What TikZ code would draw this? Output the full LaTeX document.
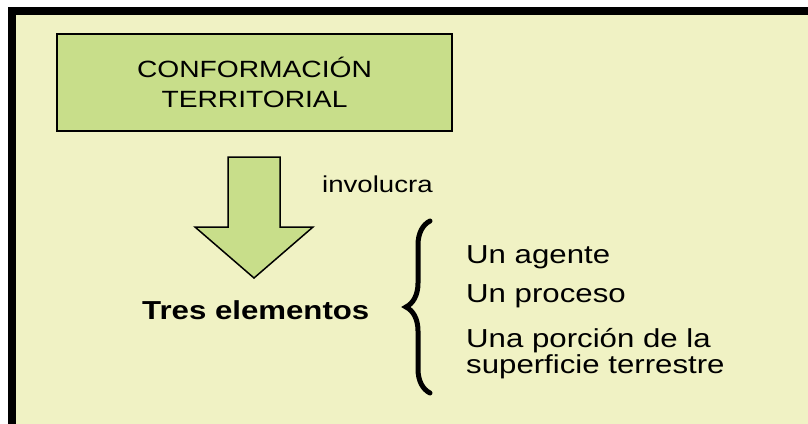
\documentclass[tikz,border=0pt]{standalone}
\usepackage{fontspec}
\setmainfont{Liberation Sans}[FakeStretch=1.2]
\usetikzlibrary{decorations.pathreplacing}
\definecolor{fondo}{RGB}{240,242,196}
\definecolor{verde}{RGB}{200,222,138}
\tikzstyle{txt}=[inner sep=0pt, anchor=base west, font=\fontsize{26}{26}\selectfont]
\tikzstyle{llave}=[decorate, decoration={brace, amplitude=24pt}, line width=5pt, line cap=round]

\begin{document}
\begin{tikzpicture}[x=1pt, y=-1pt]
	\useasboundingbox (0,0) rectangle (808,423);
	\fill[white] (0,0) rectangle (808,423);
	\draw[line width=8pt, fill=fondo] (12,11) rectangle (830,440);
	\node[draw, line width=2.5pt, fill=verde, minimum width=395pt, minimum height=97pt, align=center,
		font=\fontsize{23.5}{30}\selectfont] (t) at (254.5,82.5) {CONFORMACIÓN\\TERRITORIAL};
	\draw[line width=1.5pt, fill=verde] (228,157) -- (280,157) -- (280,227) -- (313,227) -- (254,278) -- (195,227) -- (228,227) -- cycle;
	\node[txt, font=\fontsize{23}{23}\selectfont] (i) at (322,192) {involucra};
	\node[txt, font=\fontsize{26}{26}\selectfont\bfseries] (e) at (142,319) {Tres elementos};
	\coordinate (arr) at (430,221);
	\coordinate (abj) at (430,393);
	\draw[llave] (abj) -- (arr);
	\node[txt] (a) at (466,263) {Un agente};
	\node[txt] (b) at (466,302) {Un proceso};
	% base of a two-line node is its last line
	\node[txt, align=left] (c) at (466,373) {Una porción de la\\superficie terrestre};
\end{tikzpicture}
\end{document}
